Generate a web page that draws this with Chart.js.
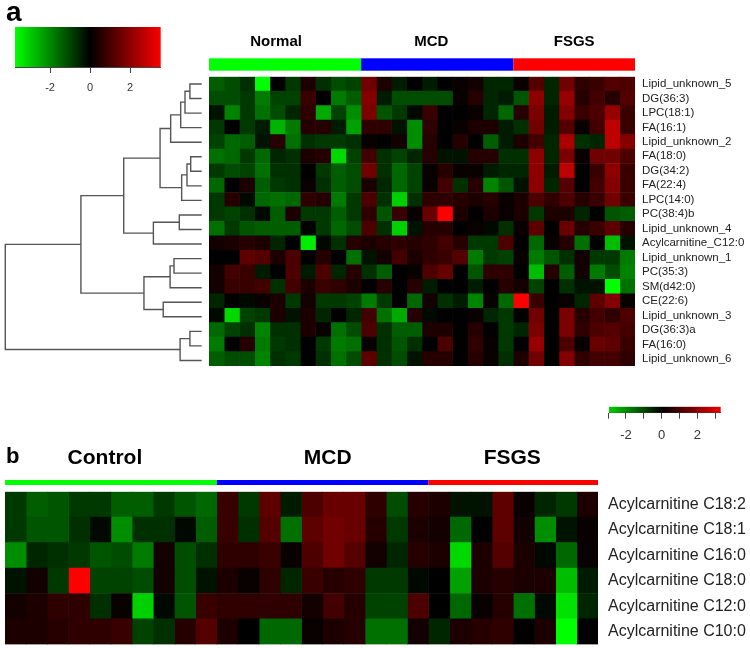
<!DOCTYPE html>
<html>
<head>
  <title>Lipid heatmaps</title>
  <meta charset="utf-8" />
  <script src="https://cdn.jsdelivr.net/npm/chart.js"></script>
  <style>
    body { margin: 0; background: #fff; }
    #wrap { position: relative; width: 750px; height: 648px; overflow: hidden; }
    #wrap canvas { position: absolute; }
  </style>
</head>
<body>
<div id="wrap">
  <canvas id="dendro" style="left:0;top:0" width="209" height="380"></canvas>
  <canvas id="topMap" style="left:200px;top:0" width="550" height="380"></canvas>
  <canvas id="topKey" style="left:0;top:0" width="180" height="100"></canvas>
  <canvas id="bottomMap" style="left:0;top:440px" width="750" height="224"></canvas>
  <canvas id="bottomKey" style="left:590px;top:385px" width="160" height="60"></canvas>
</div>

<script>
  // ---- data ----
  const topGroups = ['Normal', 'MCD', 'FSGS'];
  const bottomGroups = ['Control', 'MCD', 'FSGS'];
  const groupCounts = [10, 10, 8];
  const groupColors = ['#00ff00', '#0000ff', '#ff0000'];

  const topRows = ['Lipid_unknown_5', 'DG(36:3)', 'LPC(18:1)', 'FA(16:1)', 'Lipid_unknown_2',
    'FA(18:0)', 'DG(34:2)', 'FA(22:4)', 'LPC(14:0)', 'PC(38:4)b', 'Lipid_unknown_4',
    'Acylcarnitine_C12:0', 'Lipid_unknown_1', 'PC(35:3)', 'SM(d42:0)', 'CE(22:6)',
    'Lipid_unknown_3', 'DG(36:3)a', 'FA(16:0)', 'Lipid_unknown_6'];

  // z-scores, one row per lipid, 28 samples (10 Normal, 10 MCD, 8 FSGS)
  const topValues = [
    [-1, -0.8, -0.5, -3, 0, -0.6, 0.3, -0.5, -0.8, -0.7, 1.2, 0.3, -0.3, 0, -0.3, 0, 0.1, 0.2, -0.4, -0.4, 0.1, 0.9, -0.4, 1.2, 0.5, 0.6, 0.9, 0.8],
    [-0.8, -0.8, -0.6, -1.3, -0.7, -0.7, 0.6, 0, -1.3, -1, 1.4, -0.3, -0.8, -0.8, -0.8, -0.8, 0.1, 0.4, -0.4, -0.3, -0.9, 1.5, -0.4, 1.6, 0.4, 0.7, 0.4, 0.9],
    [-0.2, -1.4, -0.6, -1.2, -0.8, -0.4, 0.5, -1.8, -0.7, -1.5, 1.3, -0.9, -0.6, -0.1, 0.6, 0, 0, 0.1, -0.4, -1.1, 0.4, 1.3, -0.3, 1.4, 0.6, 0.8, 1.6, 0.6],
    [-0.6, 0, -0.6, -0.3, -1.9, -1.3, 0.4, 0.4, -0.3, -1.7, 0.5, 0.5, -0.2, -1.5, 0.5, 0, 0.1, 0.3, 0.3, -0.3, -0.5, 1.2, -0.3, 0.9, 0.1, 0.7, 2, 0.6],
    [-0.7, -1.1, -1, -0.2, 0.4, -1.2, -0.5, -0.6, -0.6, -0.5, 0.1, 0, 0.2, -1.5, 0.4, 0, 0.4, 0, -1, -0.3, 0.3, 0.7, -0.4, 1.8, -0.5, -0.4, 2, 1.4],
    [-1.2, -1.1, -0.6, -1.1, -0.4, -0.5, 0.3, 0.4, -2.3, -0.7, 0.7, -0.5, -0.7, -0.4, 0.4, -0.2, -0.2, 0.4, 0.4, -0.5, -0.5, 1.5, -0.4, 1.3, 0.1, 1.2, 1.2, 0.8],
    [-0.6, -0.8, -0.7, -1.2, -0.5, -0.5, 0, -0.6, -1, -0.8, 1.2, -0.5, -1.1, -0.7, 0.1, 0.4, 0.1, 0.1, -0.3, -0.4, -0.4, 1.5, -0.3, 2, 0, 0.6, 1.5, 0.6],
    [-1.1, 0, 0.3, -1, -0.6, -0.5, 0.1, -0.5, -1, -0.8, 0.3, -0.4, -1.1, -0.7, 0.1, 0.7, -0.5, 0.4, -1.4, -0.9, -0.2, 1.5, -0.4, 0.9, 0, 0.7, 1.4, 0.6],
    [-0.6, 0.4, -0.1, -1.1, -1.2, -1.1, 0.5, 0.4, -1.3, -0.6, 0.8, -0.5, -2.2, -0.5, 0.5, 0.5, 0.4, 0.3, 0.4, 0.1, 0.3, 0.8, 0.5, 0.8, 0.4, 0.6, 1.2, 0.6],
    [-0.6, -0.7, -0.5, -0.1, -1, 0.3, -0.6, -0.6, -1, -0.6, 0.5, -0.9, 0.6, 0.1, 1.1, 3, 0.3, 0, 0.3, 0.1, 0.3, -0.6, 0.3, 0.3, -0.4, 0, -0.9, -1],
    [-1.2, -0.6, -0.9, -1, -1, -1, 0, -0.6, -1.1, -0.8, 0.8, -0.5, -2.2, -0.2, 0.4, 0.4, 0, 0.1, -0.1, -0.5, 0.1, 1, 0, 1.1, 0.4, 0.6, 1, 0.4],
    [0.2, 0.3, 0.4, 0.3, -0.4, 0, -2.5, -0.1, -0.5, 0.4, 0.3, 0.4, 0.5, 0.4, 0.5, 0.7, 0.4, -0.6, -0.6, 0.8, 0, -1.1, 0.1, 0.4, -1.2, 0, -2, -0.2],
    [0, 0, 1, 0.9, 0.3, 0.8, 0, 0.4, 0, -1.2, -0.2, 0.2, 0.7, 0.3, 0.5, 0.6, 0.9, -1.3, -0.6, -0.7, 0.1, -1.3, -0.9, -0.5, 0.2, -0.6, -0.6, -1.3],
    [0.2, 0.7, 0.6, -0.3, 0, 0.8, -0.3, 0.8, -0.4, 0.4, -0.5, -1, 0, 0.1, 0.8, 1.1, 0, -0.9, 0.5, 0.5, 0, -2, 0.4, -1, 0.2, -1.3, -0.8, -1.4],
    [0.2, 0.6, 0.6, 0.7, -0.5, 0.7, 0.3, 0.6, 0.5, 0.3, 0, 0.4, 0, 0.4, -0.3, 0, 0, -0.3, 0, 0.4, 0.2, -0.7, 0, -0.5, -0.2, -0.2, -3, -1.2],
    [-0.4, 0, -0.1, 0.1, 0.3, -0.6, 0.2, -0.6, -0.6, -0.7, -1.3, -0.6, 0, -1.1, 0.2, -0.5, -0.3, -1.4, 0.1, -1.1, 3, 0.6, 0, 0.1, -0.4, 1, 1.4, 0.1],
    [-0.1, -2.3, -0.7, -0.6, 0.3, -0.2, 0.3, -0.4, 0, -0.4, 0.7, -1.2, -1.8, 0.4, -0.1, 0, 0, 0.1, -0.4, -0.6, 0, 1.2, 0, 1.3, 0.4, 0.7, 0.5, 0.8],
    [-1.1, -0.7, -0.5, -1.4, -0.5, -0.5, 0.3, 0.1, -1.2, -0.8, 0.8, -0.5, -1, -1, 0.3, 0.3, 0, 0.4, 0, -0.6, -0.4, 1.3, 0, 1.3, 0.5, 0.8, 0.9, 0.7],
    [-1.3, 0, 0.4, -1.3, -0.6, -0.5, 0, -0.6, -1.3, -1.2, 0.1, -0.5, -0.9, -0.5, 0, 0.8, 0, 0.5, 0.1, -0.6, 0, 1.6, 0, 0.8, 0.1, 1.1, 1, 0.6],
    [-1, -0.8, -0.8, -1.4, -0.5, -0.6, 0, -0.5, -1.2, -0.8, 1, -0.5, -0.8, -0.2, 0.4, 0.4, 0, 0.4, 0.1, -0.5, 0.3, 1.2, 0, 1.4, 0.5, 0.7, 0.7, 0.5]
  ];

  // hclust-style merges: negative = leaf (row number), positive = earlier merge; last = height
  const dendroMerges = [
    [-1, -2, 0.6], [1, -3, 0.85], [2, -4, 1.07], [3, -5, 1.58],
    [-6, -7, 0.56], [5, -8, 0.75], [6, -9, 1.02], [4, 7, 2.12],
    [-10, -11, 1.14], [9, -12, 2.46], [8, 10, 3.97],
    [-13, -14, 1.41], [12, -15, 1.61], [-16, -17, 1.96], [13, 14, 2.94],
    [11, 15, 6.15], [-18, -19, 0.6], [17, -20, 1.1], [16, 18, 10]
  ];

  const bottomRows = ['Acylcarnitine C18:2', 'Acylcarnitine C18:1', 'Acylcarnitine C16:0',
    'Acylcarnitine C18:0', 'Acylcarnitine C12:0', 'Acylcarnitine C10:0'];

  const bottomValues = [
    [-0.6, -1, -0.9, -0.6, -0.6, -1, -1, -0.6, -0.9, -1.1, 0.6, -0.6, 1, -0.3, 0.8, 1.1, 1.1, 0.5, -0.8, 0.4, 0.3, -0.2, -0.2, 1, 0.1, -0.4, -0.6, 0.3],
    [-0.6, -0.9, -0.9, -0.5, -0.1, -1.5, -0.5, -0.5, -0.1, -1, 0.6, -0.5, 0.9, -1.2, 1, 1.2, 1.1, 0.4, -0.6, 0.3, 0.2, -1.1, 0, 1, 0.2, -1.5, -0.2, 0.1],
    [-1.5, -0.4, -0.5, -0.6, -0.9, -0.8, -1.3, 0.2, -0.8, -0.5, 0.5, 0.5, 0.6, 0.1, 0.8, 1.2, 0.9, 0.2, -0.4, 0.4, 0.3, -2.3, 0.3, 0.9, 0.3, -0.1, -1.1, 0.1],
    [-0.2, 0.2, -0.6, 3, -0.7, -0.7, -0.8, 0.2, -0.8, -0.2, 0.3, 0.1, 0.5, -0.4, 0.6, 0.4, 0.5, -0.6, -0.6, -0.1, 0, -1.7, 0.3, 0.4, 0.3, 0.3, -2, -0.3],
    [0.2, 0.3, 0.5, 0.5, -0.5, 0.1, -2.2, -0.1, -0.9, 0.6, 0.5, 0.5, 0.5, 0.5, 0.2, 0.7, 0.4, -0.7, -0.7, 0.8, 0, -1.1, 0.1, 0.4, -1.2, -0.1, -2.4, -0.4],
    [0.3, 0.3, 0.4, 0.5, 0.5, 0.6, -0.7, -0.5, 0.4, 0.9, 0.3, 0, -1.1, -1.1, 0.1, 0.3, 0.4, -1.2, -1.2, 0.2, -0.4, 0.3, 0.4, 0.5, 0, 0.3, -2.7, 0]
  ];

  const topKeyRange = [-3.75, 3.53];
  const topKeyTicks = [-2, 0, 2];
  const bottomKeyRange = [-2.95, 3.3];
  const bottomKeyTicks = [-3, -2, -1, 0, 1, 2, 3];
  const bottomKeyLabels = [-2, 0, 2];

  // ---- helpers ----
  const FONT = '"Liberation Sans", Arial, sans-serif';
  Chart.defaults.font.family = FONT;

  const SAT = 2.7;
  function cellColor(v) {
    const k = Math.round(255 * Math.min(1, Math.abs(v) / SAT));
    return v < 0 ? `rgb(0,${k},0)` : `rgb(${k},0,0)`;
  }
  function keyColor(v) {
    const k = Math.round(255 * Math.min(1, Math.abs(v) / 3.6));
    return v < 0 ? `rgb(0,${k},0)` : `rgb(${k},0,0)`;
  }

  // panel letter ("a", "b") drawn on a chart's canvas
  const panelTag = {
    id: 'panelTag',
    afterDraw(chart, args, o) {
      if (!o.text) return;
      const ctx = chart.ctx;
      ctx.save();
      ctx.font = o.font;
      ctx.fillStyle = '#000';
      ctx.textAlign = 'left';
      ctx.textBaseline = 'alphabetic';
      ctx.fillText(o.text, o.x, o.y);
      ctx.restore();
    }
  };

  const groupStrip = {
    id: 'groupStrip',
    afterDraw(chart, args, o) {
      const { ctx, scales: { x } } = chart;
      let start = 0;
      ctx.save();
      o.names.forEach((name, i) => {
        const end = start + o.counts[i];
        const x0 = x.getPixelForValue(start), x1 = x.getPixelForValue(end);
        ctx.fillStyle = o.colors[i];
        ctx.fillRect(x0, o.barTop, x1 - x0, o.barHeight);
        ctx.fillStyle = '#000';
        ctx.font = o.font;
        ctx.textAlign = 'center';
        ctx.textBaseline = 'middle';
        ctx.fillText(name, (x0 + x1) / 2 + o.shift[i], o.textY);
        start = end;
      });
      ctx.restore();
    }
  };

  function heatmap(id, rows, values, groups, o) {
    const nSamples = values[0].length;
    const cols = [...Array(nSamples).keys()];
    return new Chart(document.getElementById(id), {
      type: 'bar',
      data: {
        labels: rows,
        datasets: cols.map(c => ({
          data: rows.map(() => 1),
          backgroundColor: values.map(r => cellColor(r[c])),
          borderWidth: 0
        }))
      },
      options: {
        indexAxis: 'y',
        responsive: false,
        animation: false,
        devicePixelRatio: 1,
        layout: { padding: o.padding },
        datasets: { bar: { barPercentage: 1, categoryPercentage: 1 } },
        plugins: {
          legend: { display: false },
          tooltip: { enabled: false },
          groupStrip: { names: groups, counts: groupCounts, colors: groupColors, shift: o.shift,
            barTop: o.barTop, barHeight: o.barHeight, textY: o.textY, font: o.groupFont },
          panelTag: o.tag || {}
        },
        scales: {
          x: { type: 'linear', stacked: true, min: 0, max: nSamples, display: false },
          y: {
            stacked: true, position: 'right',
            grid: { display: false, drawTicks: false },
            border: { display: false },
            ticks: { autoSkip: false, padding: o.labelPad, color: '#222', font: { size: o.labelSize } },
            afterFit: a => { a.width = o.labelWidth; }
          }
        }
      },
      plugins: [groupStrip, panelTag]
    });
  }

  function colorKey(id, range, tickVals, labelVals, o) {
    return new Chart(document.getElementById(id), {
      type: 'bar',
      data: {
        labels: [''],
        datasets: [{
          data: [range],
          borderWidth: 0,
          backgroundColor: ctx => {
            const ca = ctx.chart.chartArea;
            if (!ca) return null;
            const g = ctx.chart.ctx.createLinearGradient(ca.left, 0, ca.right, 0);
            g.addColorStop(0, keyColor(range[0]));
            g.addColorStop(-range[0] / (range[1] - range[0]), '#000');
            g.addColorStop(1, keyColor(range[1]));
            return g;
          }
        }]
      },
      options: {
        indexAxis: 'y',
        responsive: false,
        animation: false,
        devicePixelRatio: 1,
        layout: { padding: o.padding },
        datasets: { bar: { barPercentage: 1, categoryPercentage: 1 } },
        plugins: { legend: { display: false }, tooltip: { enabled: false } },
        scales: {
          y: { display: false },
          x: {
            type: 'linear', min: range[0], max: range[1],
            afterBuildTicks: a => { a.ticks = tickVals.map(v => ({ value: v })); },
            grid: { drawOnChartArea: false, drawTicks: true, tickLength: 6, color: '#444' },
            border: { display: true, color: '#444' },
            ticks: { padding: o.tickPad, color: '#333', font: { size: o.fontSize },
              callback: v => labelVals.includes(v) ? String(v) : '' },
            afterFit: a => { a.height = o.axisH; }
          }
        }
      }
    });
  }

  function dendroSegments(merges) {
    const pos = [], ht = [];
    const node = ref => ref < 0 ? { y: -ref - 0.5, h: 0 } : { y: pos[ref - 1], h: ht[ref - 1] };
    return merges.map(([a, b, h], k) => {
      const A = node(a), B = node(b);
      pos[k] = (A.y + B.y) / 2;
      ht[k] = h;
      return [{ x: A.h, y: A.y }, { x: h, y: A.y }, { x: h, y: B.y }, { x: B.h, y: B.y }];
    });
  }

  // ---- charts ----
  new Chart(document.getElementById('dendro'), {
    type: 'scatter',
    data: {
      datasets: dendroSegments(dendroMerges).map(pts => ({
        data: pts, showLine: true, borderColor: '#555', borderWidth: 1.4,
        pointRadius: 0, fill: false, clip: false
      }))
    },
    options: {
      responsive: false,
      animation: false,
      devicePixelRatio: 1,
      layout: { padding: { left: 5.3, right: 7.3, top: 76.7, bottom: 12.3 } },
      plugins: {
        legend: { display: false },
        tooltip: { enabled: false },
        panelTag: { text: 'a', x: 6, y: 20.5, font: 'bold 28px ' + FONT }
      },
      scales: {
        x: { type: 'linear', min: 0, max: 10, reverse: true, display: false },
        y: { type: 'linear', min: 0, max: topRows.length, reverse: true, display: false }
      }
    },
    plugins: [panelTag]
  });

  heatmap('topMap', topRows, topValues, topGroups, {
    padding: { left: 9, right: 0, top: 76.7, bottom: 12.3 },
    labelWidth: 115, labelPad: 7, labelSize: 11.5,
    barTop: 58.3, barHeight: 12.4, textY: 42, shift: [-9, -6, 0],
    groupFont: 'bold 15px ' + FONT
  });

  heatmap('bottomMap', bottomRows, bottomValues, bottomGroups, {
    padding: { left: 5, right: 0, top: 51.7, bottom: 4.4 },
    labelWidth: 152, labelPad: 10, labelSize: 16,
    barTop: 40, barHeight: 5, textY: 18.5, shift: [-6, 5, -1],
    groupFont: 'bold 21px ' + FONT,
    tag: { text: 'b', x: 6, y: 23, font: 'bold 22px ' + FONT }
  });

  colorKey('topKey', topKeyRange, topKeyTicks, topKeyTicks, {
    padding: { left: 15, right: 19.3, top: 27, bottom: 0 }, axisH: 33, tickPad: 8, fontSize: 11
  });

  colorKey('bottomKey', bottomKeyRange, bottomKeyTicks, bottomKeyLabels, {
    padding: { left: 19, right: 29.3, top: 21.7, bottom: 0 }, axisH: 32.3, tickPad: 9, fontSize: 13
  });
</script>
</body>
</html>
